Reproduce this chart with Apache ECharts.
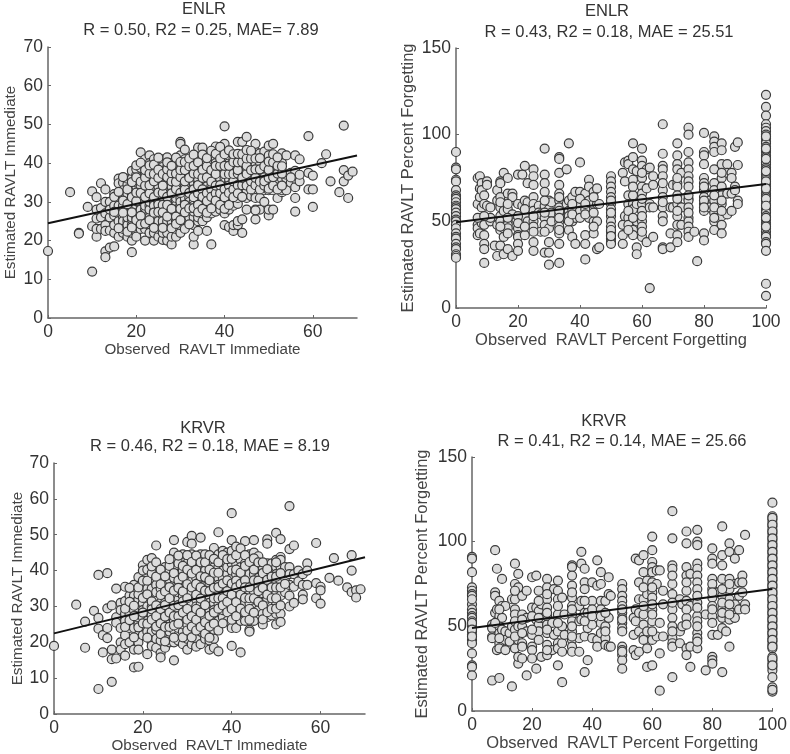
<!DOCTYPE html>
<html><head><meta charset="utf-8">
<style>html,body{margin:0;padding:0;background:#fff}#c{width:790px;height:754px;filter:blur(0.45px)}</style>
<script src="https://cdn.jsdelivr.net/npm/echarts@6/dist/echarts.min.js"></script>
</head><body><div id="c"></div>
<script>
const enlrImmediate = [
[0,[17.3]],[5,[32.5]],[7,[22,21.8]],[9,[28.7]],[10,[12,32.7,23.7]],[11,[31.2,25.7,21,23,28]],[12,[34.8,28.4,26,23]],[13,[33.2,30,17.2,15.7,24,22.5,27]],
[14,[18.2,22.6,26,30,28]],[15,[18.5,22,26.5,32,24,29]],[16,[36,34.8,21,30.8,27,25,29]],
[17,[24.4,26,28,29,31,32,35,22,25,33,23]],[18,[21,23,25,27,28.5,30,31,34.5,36,24,26,32]],
[19,[17,20,22,24,25.5,27,28,30,32,33.5,36,38,26]],[20,[22,24,26,28,29,31,33,34,37,38.5,21,35,27]],
[21,[42.8,39,36,33,31,29,27,25,23,38.8,34,30,28]],[22,[20,23,25,26,28,30,32,33,35,37,39,41,27,29]],
[23,[42,24,27,29,31,33,36,38,40,22,26,35,28,30]],[24,[20,22,24,25.5,27.5,30,32,34,36,38,41,29,33,26]],
[25,[21,23,26,28,30,33,35,37,40,39,25,31,34]],[26,[20.2,22,24,26.5,28,31,33,35,38,41,36,30,25,39]],
[27,[20,24,25,28.3,30,32,33,35,37.5,39,41,41.5,27,34,22]],[28,[19,21,24,26,29,31,33,34,36,38,40,27,25,30]],
[29,[21,23,25,27,30,32,34,36,38.8,40,29,31,28]],[30,[22,24,27,29,31,33,35.5,37,39,42,45.5,45,30,26,34]],
[31,[23,26,28,30,32,34,36,39,41,43.5,31,37]],[32,[27,29,31,33,35.5,37,40,26,30,34,38]],
[33,[19,21,24,26,27.5,30,32,34,36,38,40,41,29,35]],[34,[22.5,25,28,30,33,35,38,41,44,31,36,26]],
[35,[25,27,30,32,34,37,39,44,29,35,41]],[36,[22.5,26,29,31,33,35,37,40,28,34,38]],
[37,[19,27,30,32,34,36,39,41,42.5,29,37]],[38,[27.5,29,31,33,35,38,41,44.3,36,40]],
[39,[28,30,33,35,38,40,42,43,31,37,36]],[40,[24,27,30,32,34,36,38,41,44,45,49.5,29,35]],
[41,[23.5,28,30,33,33,35,38,40,42,36,31]],[42,[22.5,24,30,32,34,36,38,41,29,39]],
[43,[24,25,29.5,33,36,39,41,45.5,35,31]],[44,[22,25.5,32,35,37,39,41,45.5,33,38]],
[45,[28,31,33,36,38,42,46.8,35]],[46,[31.5,34,37,39,42,36]],[47,[25.5,28,32,33,35.5,37,39.5,43,45,31]],
[48,[28,31,34,37,40,42.5,36]],[49,[30,33,35.5,38,41,43,37]],[50,[26.5,28,33,35,37,39,42,44.5,34]],
[51,[28,33,35,38.8,41,45,37]],[52,[31,34,36,38,40.5]],[53,[32.5,36,38,40,42.5,33]],[54,[33,36,37,42]],
[55,[35,37.5]],[56,[27.5,31,33.8,36,38,42]],[57,[35.3,37,41]],[59,[33.2,37.5,47]],[60,[28.7,33.2,36.8]],
[62,[40]],[63,[42.3]],[64,[35.3]],[66,[32.5]],[67,[49.7,38.2,35.3]],[68,[31,36.8]],[69,[37.8]],
// second reading of the dense middle
[15,[31.3,27.4]],[16,[32.6,23.2]],[17,[30.3,27.2,36.4]],[18,[29.4,33.2,22.3]],[19,[27.3,31.2,35.1,23.4]],[20,[30.2,32.4,25.3,36.3,39.4]],
[21,[32.3,35.2,26.4,24.2,40.1]],[22,[31.3,34.2,24.4,36.3,38.2]],[23,[32.2,34.3,25.3,37.3,39.4]],[24,[31.2,35.3,27.2,23.3,37.2,39.6]],
[25,[32.4,29.3,36.2,27.4,38.3,41.4]],[26,[29.2,32.3,34.2,27.3,37.2,23.3]],[27,[31.3,29.2,36.4,26.2,38.4,40.2]],[28,[32.2,35.3,28.2,37.4,39.3,23.2]],
[29,[33.3,35.2,26.2,37.3,24.3,41.4]],[30,[32.3,28.2,36.4,38.2,25.3,40.3]],[31,[33.2,35.3,29.2,27.3,38.2,40.3]],[32,[32.3,36.2,28.3,39.2,24.2,41.2]],
[33,[33.2,31.2,37.3,28.4,39.3,42.2]],[34,[32.2,34.3,37.2,29.2,40.2,27.3]],[35,[33.2,31.3,36.2,38.3,28.2,42.2]],[36,[32.3,36.3,30.2,39.2,27.2,41.3]],
[37,[33.2,31.3,35.2,38.2,28.3,43.2]],[38,[32.2,34.2,37.2,30.3,39.3,42.4]],[39,[32.2,34.3,29.2,39.3,41.2,44.2]],[40,[33.3,37.2,31.2,39.3,42.3,28.2]],
[41,[34.2,32.3,37.2,39.3,29.2,43.3]],[42,[33.2,35.3,37.2,40.3,31.2,42.3]],[43,[34.3,32.2,37.3,38.2,40.2,42.4]],[44,[34.3,36.2,31.3,40.3,42.3]],
[45,[34.2,37.2,39.3,41.2,43.4]],[46,[33.2,35.3,38.2,41.2,43.2]],[47,[34.3,36.2,38.4,41.2,27.8]],[48,[33.2,35.2,38.4,41.3]],[49,[34.2,36.3,39.2,35.3]],
[50,[36.2,38.3,40.4,33.4]],[51,[34.2,36.4,40.2,42.3]],[52,[33.2,37.3,39.3,41.5]],[53,[34.2,37.3,39.2]],[55,[36.3]]
];
const enlrForgetting = [
[0,[90,81,80,74,73,68,65,64,63,61,59,58,57,55,53,51,50,48,46,43,41,40,37,35,34,31,30,29]],
[7,[75,60,48,46,42]],[7.7,[76,69,64,43]],[8.3,[72,68,58,49]],[9.1,[65,60,48,42,37,34,26]],[10,[73,71,59]],[11.1,[58,50,52]],[12.5,[36]],
[13.3,[68,62,30,48]],[14.3,[73,72,64,58,53,50,45,36]],[15.4,[78,60,56,46,41,31]],[16.7,[75,66,57,50,48,46,43,34]],[18.2,[66,64,54,30]],
[20,[77,60,46,42,41,37,33]],[21.4,[59,77]],[22.2,[82,62,53,42]],[23.1,[72,61,50]],[25,[80,76,71,64,60,56,50,47,38,33]],[26.7,[59,55]],[27.3,[54,44]],
[28.6,[92,77,72,67,59,52,48,32]],[30,[62,57,46,32,38,25]],[30.8,[61,55,50]],[33.3,[87,86,78,71,66,62,58,54,50,47,43,37,26]],[35.7,[80,60,52]],
[36.4,[95,62,56,45]],[37.5,[64,57,50,41]],[38.5,[67,52,37]],[40,[84,67,60,56]],[41.7,[66,57,42,37,28]],[42.9,[74,70,62,52]],[44.4,[67,60,50,43]],
[45.5,[69,60,50,34]],[46.2,[35,60]],[50,[76,73,70,67,64,60,57,53,50,47,44,42,40,38,37]],[53.8,[78,48,42,37]],[54.5,[84,73,53]],[55.6,[85,83,65,60,52,48]],
[57.1,[95,87,80,74,65,60,57,45,42]],[58.3,[79,60,50,35,31]],[60,[92,85,82,75,70,66,60,56,50,47,41]],[61.5,[80,69,38]],[62.5,[81,60,58,11.5]],
[63.6,[76,71,58,41]],[66.7,[106,89,82,80,76,68,64,58,53,50,35,34]],[69.2,[58,35,43]],[70,[71,58]],[71.4,[95,88,83,80,72,70,65,60,53,48,42,38]],
[72.7,[78,58,48]],[75,[104,100,90,84,80,76,73,70,63,62,58,52,50,47,44,41]],[76.9,[44]],[77.8,[27]],[80,[101,90,88,83,75,72,68,64,60,56,43,39]],
[81.8,[62,58]],[83.3,[99,96,93,90,80,72,68,62,55,50,45]],[84.6,[52]],[85.7,[95,91,83,75,70,65,60,53,48,43]],[87.5,[83,78,66,54]],[88.9,[78,75,66,56]],
[90,[93,70,68]],[90.9,[95.5,82.5,62,60]],
[100,[123,116,111,106,104,102,100,98,96,95,93,91,90,88,87,85,84,83,81,80,78,77,76,75,74,72,71,70,68,66,65,64,62,60,58,57,56,55,53,51,49,48,46,44,42,41,38,37,33,14,7]],
// second reading of the middle
[7,[52]],[9.1,[53]],[14.3,[61,47]],[16.7,[60,52]],[20,[53,49]],[22.2,[57,47]],[25,[53,44]],[28.6,[62,55,44]],[33.3,[64,56,52,45]],[36.4,[53,50]],
[37.5,[60,54]],[40,[63,52]],[41.7,[60,54]],[44.4,[64,55,47]],[50,[62,55,45,41.5]],[55.6,[56,45]],[57.1,[70,52]],[60,[78,63,53,44]],[66.7,[72,61]],
[71.4,[75,63,56]],[75,[65,55]],[80,[70,62,58]],[83.3,[65,58,52]],[85.7,[78,62,56]],[100,[99,92,86,79,73,69,63,59,52,47]]
];
const krvrImmediate = [
[0,[19]],[5,[30.5]],[7,[25.8,18.5]],[9,[28.8]],[10,[38.8,26.8,23.8,7]],[11,[22,17.2]],[12,[39.3,29.5,24,21.2]],[13,[30.3,18,15.3,9]],[14,[35,27,25.5,15.5]],
[15,[31,24,20,18,29]],[16,[35.5,31.5,28,22,19.5,16.3,26]],[17,[33,28,24,20,30]],[18,[36,33,29,26,24,18,13,31]],[19,[38.2,32,29.7,25,22,20,18,13.2,27]],
[20,[41.5,40,33.5,31,27,24,22,29,35]],[21,[43,35,32,28,23,16.7,30,26]],[22,[43.5,37,33,30,27.5,25,23,20,19,35]],[23,[47,40,36,32,29,26,23.5,21,18.5,34]],
[24,[38,35,31,28,24,20.5,17,15.8,30,26]],[25,[41,37,33,29,26,22.5,18.5,31,35]],[26,[40,37.5,34,31,27,25,21,20,29,23]],
[27,[48.5,45,43,41,36,33,29,26,23.5,20,15,38,31]],[28,[42,39,36,32,29,26,22,20.5,34,24]],[29,[44.5,40,37,33,30,27,23,19.5,35,25]],
[30,[48,42,39,35,31,28,25,21,18,37,33]],[31,[49.7,47.5,44.5,41,37,33.8,29,26,23,19.5,31]],[32,[42,38,35,32,28,25,21,18.8,30,36]],
[33,[49.2,44.5,41,37.5,34,30.5,27,23,19.5,29,25]],[34,[44.5,40,36,33,29.5,27,24.5,21,31,38]],[35,[42.5,39,36,33,29,26,23.5,20.5,18,31]],
[36,[46.3,41,38,34,31,27,23.5,21,18.5,29,36]],[37,[50.7,44.5,41,38,34.5,31,28,26,17.5,36]],[38,[45.5,42,38,35,31,27,33,29,40]],[39,[45,39,36,33,30,26,41,35]],
[40,[56,48.5,45.5,42,38,35,32,28,24,19,40,30]],[41,[46.7,42,39,36,33,29.5,24,34]],[42,[38,43,35,32,28,26,17.2,41,30]],[43,[48.2,42,38,34,31,26,36,40]],
[44,[44.5,41,37,34,31,28,23.5,23,39,36]],[45,[48.5,45,42,39,34,29.5,26,36]],[46,[44,40,36,33,29,38]],[47,[41,38,33.7,28,25,36,31]],[48,[48.7,47.5,42,39,36,32,27,30]],
[49,[40.5,37,34,30,27.5,42]],[50,[50.5,43,41,37,33.5,31,28,25,39]],[51,[48.8,43.8,41,37,33,28,25.7,43]],[52,[41,38,34]],[53,[58,46,41,39,36,33,30]],
[54,[47,39,35.5,31]],[55,[37,40]],[56,[39,36,33.3,32]],[57,[42,40,36]],[59,[47.7,36.5,32.3]],[60,[35.5,34.5,30.8]],[62,[38]],[63,[43.5]],[64,[37.2]],[66,[35.3]],
[67,[44.3,40,34]],[68,[34.5,32.5]],[69,[34.8]],
// second reading of the dense middle
[16,[29.4,24.3]],[17,[31.3,26.2,35.2]],[18,[27.3,30.2,21.4]],[19,[33.4,24.2,35.3]],[20,[37.2,32.4,25.3,28.3]],[21,[40.3,37.2,33.4,25.2,21.3]],
[22,[39.3,31.4,29.2,41.2,26.3]],[23,[38.3,30.3,27.3,24.4,42.3]],[24,[40.3,33.2,29.3,25.3,22.3,36.2]],[25,[38.4,34.2,30.4,27.2,24.3,20.3]],
[26,[41.3,35.4,32.3,28.3,24.3,43.2]],[27,[39.3,34.4,30.2,27.3,24.7,21.3]],[28,[44.2,37.3,35.2,30.4,27.3,25.2]],[29,[41.3,38.3,34.2,31.4,28.3,21.4]],
[30,[44.3,40.3,36.2,32.3,29.3,26.3,23.3]],[31,[42.4,39.2,35.3,27.3,24.4,21.4]],[32,[44.2,40.2,36.3,33.3,29.3,26.3,23.3]],[33,[42.3,38.4,35.3,32.2,28.3,24.3]],
[34,[42.3,38.2,34.4,30.4,25.6,22.4]],[35,[44.3,40.3,37.3,34.3,27.4,24.4,21.3]],[36,[43.3,39.4,35.2,32.3,28.3,25.2]],[37,[42.3,39.4,35.4,32.3,29.4,23.3]],
[38,[44.3,36.4,32.3,30.3,25.3]],[39,[43.2,37.3,34.3,31.3,28.4]],[40,[43.3,36.4,33.3,29.3,26.3]],[41,[44.3,40.3,37.2,35.3,31.2,27.3]],[42,[46.2,39.4,36.3,33.3,29.4]],
[43,[44.3,41.3,37.3,35.3,32.4,28.4]],[44,[42.4,35.3,32.3,29.3,26.3]],[45,[43.4,40.3,37.3,32.3,28.3]],[46,[42.3,37.2,34.3,31.3]],[47,[42.3,39.3,35.2,30.3,26.4]],
[48,[40.4,37.4,33.3,28.4]],[49,[38.3,35.3,32.3,29.3]],[50,[42.3,38.3,35.3,32.3,29.4]],[51,[39.3,35.3,30.3]],[52,[36.3]]
];
const krvrForgetting = [
[0,[91,90,82,73,71,69,68,63,60,58,56,55,53,50,47,45,42,40,34,27,26,21]],
[6.7,[51,49,44,43,18]],[7.7,[95,70,68,58]],[8.3,[84,60,36]],[9.1,[65,56,50,46,40,37,19.5]],[10,[78,62,55,48]],[11.1,[62,47,42,36]],[12.5,[46,41]],[13.3,[66,50,14.5]],
[14.3,[87,75,66,60,57,53,48,37]],[15.4,[81,73,50,42,28,32]],[16.7,[68,57,50,40,38,31]],[18.2,[71,55,47,21]],[20,[79,61,45,38,36,31]],[21.4,[80,61,54,25]],
[22.2,[71,59,51,47,42]],[23.1,[63,55,32]],[25,[78,73,66,61,56,51,46,39,33]],[26.7,[52,36]],[27.3,[72,45]],[28.6,[77,71,66,57,47,40,37,27]],[30,[67,50,40,35,17]],
[30.8,[57,45]],[33.3,[86,85,80,74,67,62,57,53,47,42,38,35]],[35.7,[62,53,43,35]],[36.4,[94,87,65,54]],[37.5,[84,76,72,58,44,23]],[38.5,[58,49,30]],[40,[76,65,51,43]],
[41.7,[89,74,58,42,38]],[42.9,[82,75,65,52,46]],[44.4,[65,50,43,39]],[45.5,[79,69,55,38]],[46.2,[68,38]],[50,[75,72,68,65,62,58,55,52,49,38,36,33,30,25]],
[53.8,[36,45,55]],[54.5,[90,60,53,33]],[55.6,[89,76,66,58,47,35]],[57.1,[92,82,66,57,51,44,42]],[58.3,[77,69,47,26,37]],[60,[103,95,88,85,82,76,70,67,60,53,42,27]],
[61.5,[83,75,44]],[62.5,[83,52,34,12]],[63.6,[71,63,44]],[66.7,[118,102,86,84,75,69,60,55,50,43,40,38,20]],[69.2,[66,47,40]],[70,[63,50]],[71.4,[106,99,85,80,71,65,55,51,37,33]],
[72.7,[81,62,38,26]],[75,[107,100,98,87,84,80,76,72,64,56,53,46,43,37]],[77.8,[24,57]],[80,[96,90,87,78,72,67,62,56,45,32,30,28]],[81.8,[70,45]],
[83.3,[109,92,86,78,68,60,55,49,23]],[84.6,[58,47]],[85.7,[99,94,78,72,66,60,54,38]],[87.5,[90,75,63,55]],[88.9,[95,76,68,60]],[90,[70,80,76]],[90.9,[104,63,60]],
[100,[123,115,113,111,109,107,105,103,101,99,97,95,93,91,89,87,85,83,81,79,77,75,73,71,69,67,65,63,61,59,57,55,53,51,49,47,45,43,41,39,37,32,30,28,26,24,20,14,11.5]],
// second reading of the middle
[0,[66,52,48,44]],[7.7,[52]],[9.1,[60,43]],[14.3,[71,44]],[16.7,[46,54]],[20,[56,48]],[22.2,[65,55]],[25,[69,58,48,36]],[28.6,[62,52]],[33.3,[70,60,50,44]],
[37.5,[65,53]],[40,[60,56]],[42.9,[60,56]],[44.4,[58,47]],[50,[60,54,47,35]],[57.1,[73,62]],[60,[73,63,57,47]],[66.7,[80,64,47]],[71.4,[76,60]],[75,[68,61,50,41]],
[80,[75,70,60,52]],[83.3,[72,64,58]],[85.7,[75,63,57]],[100,[114,110,106,102,98,94,90,86,82,78,74,70,66,62,58,54,50,46,42,38,31,27,12.5]]
];
const fitEnlrImmediate = [[0,24.5],[70,42]];
const fitEnlrForgetting = [[0,49.5],[100,71.5]];
const fitKrvrImmediate = [[0,22.5],[70,43.7]];
const fitKrvrForgetting = [[0,49],[100,72]];
const labelImmediate = ['Observed  RAVLT Immediate','Estimated RAVLT Immediate'];
const labelForgetting = ['Observed  RAVLT Percent Forgetting','Estimated RAVLT Percent Forgetting'];

const flat = rows => rows.flatMap(([x, ys]) => ys.map(y => [x, y]));
const FONT = '"Liberation Sans", Arial, sans-serif';
const INK = '#333';

const panels = [
 {rows:enlrImmediate, fit:fitEnlrImmediate, names:labelImmediate, xMax:70, xInt:20, yMax:70, yInt:10,
  grid:[48,47,309,271], t1:['ENLR',204,9], t2:['R = 0.50, R2 = 0.25, MAE= 7.89',201,30], nameSize:15.2, xGap:23, yGap:30},
 {rows:enlrForgetting, fit:fitEnlrForgetting, names:labelForgetting, xMax:100, xInt:20, yMax:150, yInt:50,
  grid:[456,48,310,260], t1:['ENLR',607,11], t2:['R = 0.43, R2 = 0.18, MAE = 25.51',609,32], nameSize:16.5, xGap:24, yGap:39},
 {rows:krvrImmediate, fit:fitKrvrImmediate, names:labelImmediate, xMax:70, xInt:20, yMax:70, yInt:10,
  grid:[54,463,311,253], t1:['KRVR',203,428], t2:['R = 0.46, R2 = 0.18, MAE = 8.19',210,446], nameSize:15.2, xGap:23, yGap:29},
 {rows:krvrForgetting, fit:fitKrvrForgetting, names:labelForgetting, xMax:100, xInt:20, yMax:150, yInt:50,
  grid:[472,457,302,254], t1:['KRVR',604,421], t2:['R = 0.41, R2 = 0.14, MAE = 25.66',622,441], nameSize:16.5, xGap:23, yGap:41}
];

const axisCommon = {
  axisLine:{show:true,onZero:false,lineStyle:{color:'#666',width:1.5}},
  axisTick:{show:true,inside:true,length:3,lineStyle:{color:'#666',width:1}},
  splitLine:{show:false},
  nameLocation:'middle',
  nameTextStyle:{color:'#444',fontFamily:FONT}
};
const option = {animation:false,backgroundColor:'#fff',title:[],grid:[],xAxis:[],yAxis:[],series:[]};
panels.forEach((p,i)=>{
  const [l,t,w,h] = p.grid;
  option.grid.push({left:l,top:t,width:w,height:h,containLabel:false});
  [p.t1,p.t2].forEach(tt=>option.title.push({text:tt[0],left:tt[1],top:tt[2],textAlign:'center',textVerticalAlign:'middle',padding:0,
    textStyle:{fontFamily:FONT,fontWeight:'normal',fontSize:16.5,color:INK}}));
  option.xAxis.push({...axisCommon,type:'value',gridIndex:i,min:0,max:p.xMax,interval:p.xInt,name:p.names[0],nameGap:p.xGap,
    nameTextStyle:{...axisCommon.nameTextStyle,fontSize:p.nameSize},
    axisLabel:{color:INK,fontFamily:FONT,fontSize:17.5,margin:5,showMaxLabel:p.xMax===100}});
  option.yAxis.push({...axisCommon,type:'value',gridIndex:i,min:0,max:p.yMax,interval:p.yInt,name:p.names[1],nameGap:p.yGap,
    nameTextStyle:{...axisCommon.nameTextStyle,fontSize:p.nameSize},
    axisLabel:{color:INK,fontFamily:FONT,fontSize:17.5,margin:5}});
  option.series.push({type:'scatter',xAxisIndex:i,yAxisIndex:i,data:flat(p.rows),symbol:'circle',symbolSize:9,clip:false,
    itemStyle:{color:'#dcdcdc',borderColor:'#3a3a3a',borderWidth:1.2,opacity:1},z:2});
  option.series.push({type:'line',xAxisIndex:i,yAxisIndex:i,data:p.fit,symbol:'none',clip:false,
    lineStyle:{color:'#111',width:2},z:3});
});
echarts.init(document.getElementById('c'),null,{renderer:'canvas'}).setOption(option);
</script></body></html>
